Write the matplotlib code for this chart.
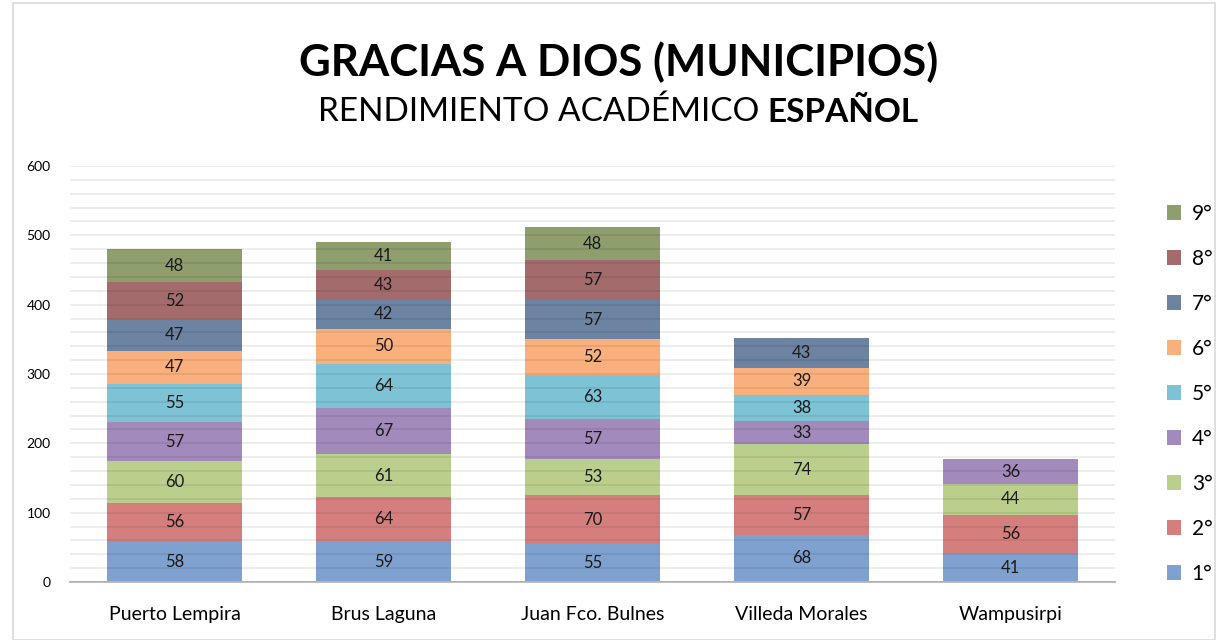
import numpy as np
import matplotlib.pyplot as plt
from matplotlib.patches import Rectangle, Patch

municipios = ['Puerto Lempira', 'Brus Laguna', 'Juan Fco. Bulnes', 'Villeda Morales', 'Wampusirpi']
grados = ['1°', '2°', '3°', '4°', '5°', '6°', '7°', '8°', '9°']
g1 = [58, 59, 55, 68, 41]
g2 = [56, 64, 70, 57, 56]
g3 = [60, 61, 53, 74, 44]
g4 = [57, 67, 57, 33, 36]
g5 = [55, 64, 63, 38, 0]
g6 = [47, 50, 52, 39, 0]
g7 = [47, 42, 57, 43, 0]
g8 = [52, 43, 57, 0, 0]
g9 = [48, 41, 48, 0, 0]
series = [g1, g2, g3, g4, g5, g6, g7, g8, g9]
colores = ['#7FA1CF', '#D47F7E', '#BBCF8C', '#A28BBC', '#7DC3D5',
           '#F9B07C', '#6C83A2', '#A36B6B', '#8E9E6C']

plt.rcParams['font.family'] = ['Lato', 'DejaVu Sans']

fig = plt.figure(figsize=(12.22, 6.4), dpi=100)
fig.patches.append(Rectangle((13 / 1222, 0.0), 1202 / 1222, 0.995, transform=fig.transFigure,
                             fill=False, edgecolor='#D9D9D9', linewidth=1.2))
ax = fig.add_axes([70 / 1222, 1 - 582 / 640, 1045 / 1222, 416 / 640])

x = np.arange(len(municipios))
bottom = np.zeros(len(municipios))
for vals, col in zip(series, colores):
    vals = np.array(vals)
    ax.bar(x, vals, bottom=bottom, width=0.65, color=col, zorder=1)
    for xi, b, v in zip(x, bottom, vals):
        if v > 0:
            ax.text(xi, b + v / 2, str(v), ha='center', va='center', fontsize=12, color='#1a1a1a', zorder=4)
    bottom += vals

ax.set_xlim(-0.5, len(municipios) - 0.5)
ax.set_ylim(0, 600)
ax.set_yticks(np.arange(0, 601, 100))
ax.set_yticks(np.arange(0, 601, 20), minor=True)
ax.set_axisbelow(False)
ax.grid(axis='y', which='both', color='black', alpha=0.08, linewidth=1.3, zorder=2.5)
ax.set_xticks(x)
ax.set_xticklabels(municipios, fontsize=14)
ax.tick_params(axis='y', which='both', length=0, labelsize=10, pad=14)
ax.tick_params(axis='x', length=0, pad=17)
for s in ['top', 'right', 'left']:
    ax.spines[s].set_visible(False)
ax.spines['bottom'].set_color('#BFBFBF')
ax.spines['bottom'].set_linewidth(1.5)

handles = [Patch(facecolor=c) for c in colores][::-1]
fig.legend(handles, grados[::-1], loc='upper left', bbox_to_anchor=(1148 / 1222, 1 - 185 / 640),
           frameon=False, fontsize=15, handlelength=0.7, handleheight=0.7,
           labelspacing=1.2, handletextpad=0.5)

fig.text(0.506, 1 - 62 / 640, 'GRACIAS A DIOS (MUNICIPIOS)', ha='center', va='center',
         fontsize=31.5, fontweight='bold')
t1 = fig.text(0, 1 - 112 / 640, 'RENDIMIENTO ACADÉMICO ', ha='left', va='center', fontsize=24)
t2 = fig.text(0, 1 - 112 / 640, 'ESPAÑOL', ha='left', va='center', fontsize=24, fontweight='bold')
fig.canvas.draw()
r = fig.canvas.get_renderer()
w1 = t1.get_window_extent(r).width / fig.bbox.width
w2 = t2.get_window_extent(r).width / fig.bbox.width
start = 618 / 1222 - (w1 + w2) / 2
t1.set_x(start)
t2.set_x(start + w1)

fig.savefig('out.png', dpi=100)
